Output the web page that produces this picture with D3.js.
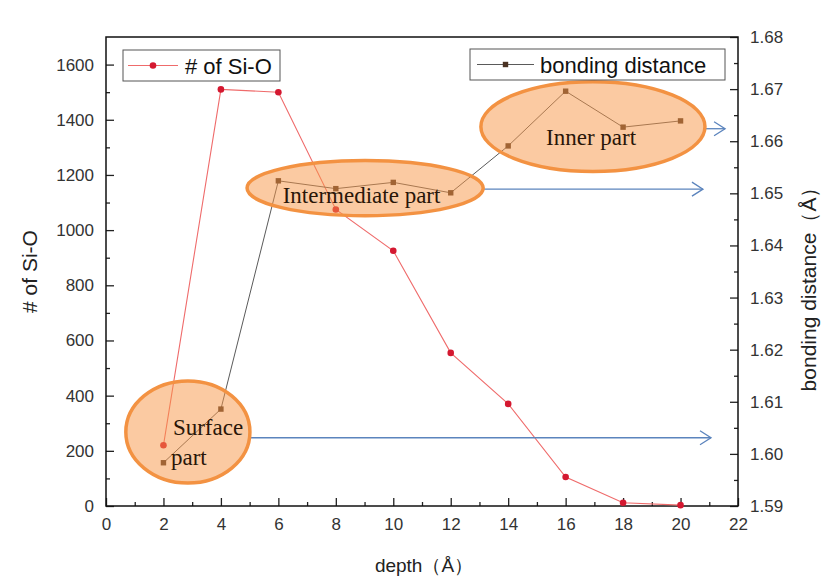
<!DOCTYPE html>
<html>
<head>
<meta charset="utf-8">
<script src="https://cdn.jsdelivr.net/npm/d3@7"></script>
<style>
  body { margin: 0; background: #fff; }
  svg text { font-family: "Liberation Sans", Arial, sans-serif; }
</style>
</head>
<body>
<div id="chart"></div>
<script>
"use strict";

/*** Data */
const depth = [2, 4, 6, 8, 10, 12, 14, 16, 18, 20];
const siOCount = [220, 1510, 1500, 1075, 925, 555, 370, 105, 12, 3];
const bondDist = [1.5983, 1.6086, 1.6524, 1.6509, 1.6521, 1.6501, 1.6591, 1.6696, 1.6627, 1.6639];

/* annotation regions (depth, bonding distance) */
const regionNames = ["Surface part", "Intermediate part", "Inner part"];
const regionCenterX = [2.85, 9.02, 16.95];
const regionCenterY = [1.6042, 1.6510, 1.6628];
const regionRadiusX = [2.16, 4.11, 3.9];
const regionRadiusY = [0.0098, 0.0053, 0.0086];
const regionArrowY = [1.6031, 1.6508, 1.6624];
const regionArrowEnd = [21.06, 20.78, 21.55];

const xTicks = d3.range(0, 23, 2);
const yLeftTicks = d3.range(0, 1601, 200);
const yRightTicks = [1.59, 1.60, 1.61, 1.62, 1.63, 1.64, 1.65, 1.66, 1.67, 1.68];

/*** Dimensions */
const w = 837;
const h = 588;
const margin = {top: 37, right: 99, bottom: 82, left: 106};

const svg = d3.select("#chart")
  .append("svg")
  .attr("width", w)
  .attr("height", h);

const x = d3.scaleLinear().domain([0, 22]).range([margin.left, w - margin.right]);
const yL = d3.scaleLinear().domain([0, 1700]).range([h - margin.bottom, margin.top]);
const yR = d3.scaleLinear().domain([1.59, 1.68]).range([h - margin.bottom, margin.top]);

const redLine = "#ef6b6b";
const redDot = "#d41830";
const blackLine = "#5a5a5a";
const blackDot = "#4a3222";

/*** Axes (ticks inward) */
const tickCol = "#333";
const bottom = h - margin.bottom;

// minor ticks
svg.append("g")
  .attr("transform", "translate(0," + bottom + ")")
  .call(d3.axisTop(x).tickValues(d3.range(1, 22, 2)).tickSize(4).tickFormat(""))
  .call(g => g.select(".domain").remove());
svg.append("g")
  .attr("transform", "translate(" + margin.left + ",0)")
  .call(d3.axisRight(yL).tickValues(d3.range(100, 1700, 200)).tickSize(4).tickFormat(""))
  .call(g => g.select(".domain").remove());
svg.append("g")
  .attr("transform", "translate(" + (w - margin.right) + ",0)")
  .call(d3.axisLeft(yR).tickValues(d3.range(1.595, 1.68, 0.01)).tickSize(4).tickFormat(""))
  .call(g => g.select(".domain").remove());

// major ticks
const xAxis = svg.append("g")
  .attr("transform", "translate(0," + bottom + ")")
  .call(d3.axisBottom(x).tickValues(xTicks).tickSizeInner(-8).tickSizeOuter(0).tickPadding(12));
const yAxisL = svg.append("g")
  .attr("transform", "translate(" + margin.left + ",0)")
  .call(d3.axisLeft(yL).tickValues(yLeftTicks).tickSizeInner(-8).tickSizeOuter(0).tickPadding(12)
    .tickFormat(d3.format("d")));
const yAxisR = svg.append("g")
  .attr("transform", "translate(" + (w - margin.right) + ",0)")
  .call(d3.axisRight(yR).tickValues(yRightTicks).tickSizeInner(-8).tickSizeOuter(0).tickPadding(12)
    .tickFormat(d3.format(".2f")));

[xAxis, yAxisL, yAxisR].forEach(g => {
  g.selectAll("text").style("font-size", "17px").attr("fill", tickCol);
  g.selectAll(".domain").remove();
});
svg.selectAll(".tick line").attr("stroke", "#222").attr("stroke-width", 1.3);

// frame
svg.append("rect")
  .attr("x", margin.left)
  .attr("y", margin.top)
  .attr("width", w - margin.left - margin.right)
  .attr("height", h - margin.top - margin.bottom)
  .attr("fill", "none")
  .attr("stroke", "#111")
  .attr("stroke-width", 1.5);

/*** Axis titles */
svg.append("text")
  .attr("transform", "translate(" + 37 + "," + (margin.top + bottom) / 2 + ") rotate(-90)")
  .attr("text-anchor", "middle")
  .style("font-size", "21px")
  .attr("fill", "#222")
  .text("# of Si-O");

svg.append("text")
  .attr("transform", "translate(" + 816 + "," + 284 + ") rotate(-90)")
  .attr("text-anchor", "middle")
  .style("font-size", "21px")
  .attr("fill", "#222")
  .text("bonding distance（Å）");

svg.append("text")
  .attr("x", 424)
  .attr("y", 572)
  .attr("text-anchor", "middle")
  .style("font-size", "19px")
  .attr("fill", "#222")
  .text("depth（Å）");

/*** Series */
const siData = depth.map((d, i) => [d, siOCount[i]]);
const bdData = depth.map((d, i) => [d, bondDist[i]]);

svg.append("path")
  .datum(siData)
  .attr("fill", "none")
  .attr("stroke", redLine)
  .attr("stroke-width", 1.1)
  .attr("d", d3.line().x(d => x(d[0])).y(d => yL(d[1])));

svg.append("path")
  .datum(bdData)
  .attr("fill", "none")
  .attr("stroke", blackLine)
  .attr("stroke-width", 1)
  .attr("d", d3.line().x(d => x(d[0])).y(d => yR(d[1])));

svg.append("g").selectAll("circle")
  .data(siData)
  .enter()
  .append("circle")
  .attr("cx", d => x(d[0]))
  .attr("cy", d => yL(d[1]))
  .attr("r", 3.3)
  .attr("fill", redDot);

svg.append("g").selectAll("rect")
  .data(bdData)
  .enter()
  .append("rect")
  .attr("x", d => x(d[0]) - 2.7)
  .attr("y", d => yR(d[1]) - 2.7)
  .attr("width", 5.4)
  .attr("height", 5.4)
  .attr("fill", blackDot);

/*** Annotations */
const arrowCol = "#5b84bd";
regionNames.forEach((name, i) => {
  const cx = x(regionCenterX[i]);
  const rx = x(regionCenterX[i] + regionRadiusX[i]) - cx;
  const cy = yR(regionCenterY[i]);
  const ry = cy - yR(regionCenterY[i] + regionRadiusY[i]);
  const ay = yR(regionArrowY[i]);
  // arrow starts where the horizontal line leaves the ellipse
  const dy = (ay - cy) / ry;
  const x0 = cx + rx * Math.sqrt(Math.max(0, 1 - dy * dy));
  const x1 = x(regionArrowEnd[i]);
  svg.append("line")
    .attr("x1", x0).attr("x2", x1)
    .attr("y1", ay).attr("y2", ay)
    .attr("stroke", arrowCol)
    .attr("stroke-width", 1.3);
  svg.append("path")
    .attr("d", "M" + (x1 - 11) + "," + (ay - 7) + "L" + x1 + "," + ay + "L" + (x1 - 11) + "," + (ay + 7))
    .attr("fill", "none")
    .attr("stroke", arrowCol)
    .attr("stroke-width", 1.3);

  svg.append("ellipse")
    .attr("cx", cx).attr("cy", cy)
    .attr("rx", rx).attr("ry", ry)
    .attr("fill", "#f79646")
    .attr("fill-opacity", 0.5)
    .attr("stroke", "#f39242")
    .attr("stroke-width", 3.5);
});

const serif = "'Liberation Serif', 'DejaVu Serif', serif";
const labelCol = "#2a1608";
const labelPos = [
  {t: "Surface", dx: 2.33, by: 1.6036},
  {t: "part", dx: 2.26, by: 1.5979},
  {t: regionNames[1], dx: 6.15, by: 1.6481},
  {t: regionNames[2], dx: 15.32, by: 1.6593}
];
labelPos.forEach(p => {
  svg.append("text")
    .attr("x", x(p.dx)).attr("y", yR(p.by))
    .style("font-family", serif).style("font-size", "23px")
    .attr("fill", labelCol)
    .text(p.t);
});

/*** Legends */
const legends = [
  {x0: 123, y0: 50, wd: 157, label: "# of Si-O", col: redLine, mark: "circle", mc: redDot, lx0: 128, lx1: 178, tx: 185},
  {x0: 470, y0: 49, wd: 255, label: "bonding distance", col: blackLine, mark: "rect", mc: blackDot, lx0: 477, lx1: 534, tx: 540}
];
legends.forEach(l => {
  const g = svg.append("g");
  g.append("rect")
    .attr("x", l.x0).attr("y", l.y0)
    .attr("width", l.wd).attr("height", 31)
    .attr("fill", "#fff")
    .attr("stroke", "#555")
    .attr("stroke-width", 1);
  const my = l.y0 + 15.5;
  g.append("line")
    .attr("x1", l.lx0).attr("x2", l.lx1)
    .attr("y1", my).attr("y2", my)
    .attr("stroke", l.col).attr("stroke-width", 1.1);
  const mx = (l.lx0 + l.lx1) / 2;
  if (l.mark === "circle") {
    g.append("circle").attr("cx", mx).attr("cy", my).attr("r", 3.3).attr("fill", l.mc);
  } else {
    g.append("rect").attr("x", mx - 2.7).attr("y", my - 2.7).attr("width", 5.4).attr("height", 5.4).attr("fill", l.mc);
  }
  g.append("text")
    .attr("x", l.tx).attr("y", my + 8)
    .style("font-size", "22px")
    .attr("fill", "#111")
    .text(l.label);
});
</script>
</body>
</html>
